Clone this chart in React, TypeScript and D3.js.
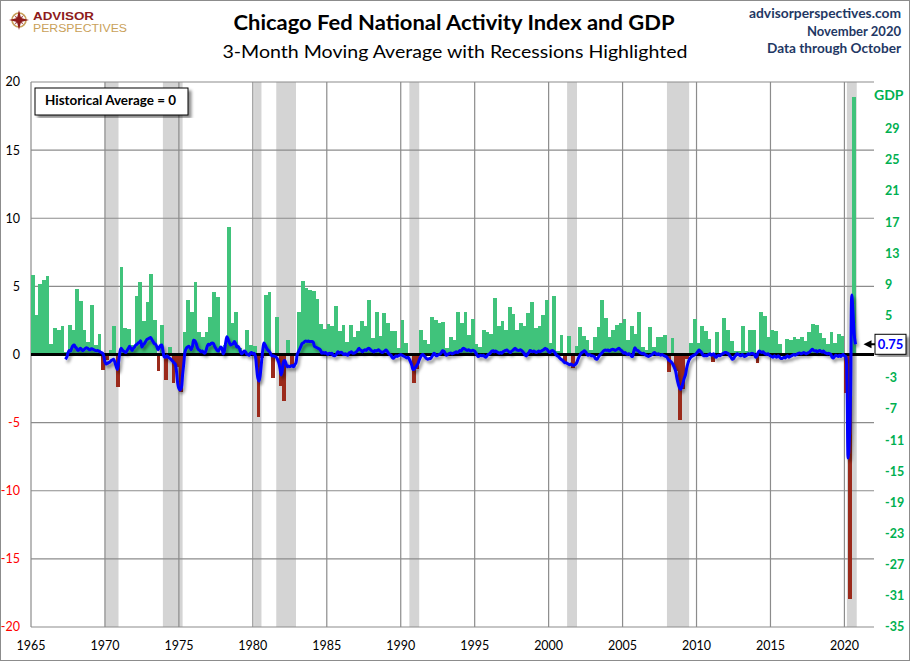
import * as d3 from "d3";

// quarterly real GDP growth (annualized %), first bar = 1965 Q1
const gdpStartYear = 1965;
const gdpGrowth = [
  10.2, 5.1, 9.1, 9.6, 10.1, 1.4, 3.4, 3.2, 3.6, 0.3, 3.8, 3.1,
  8.4, 6.9, 3.1, 1.6, 6.3, 1.2, 2.6, -2.0, -0.7, 0.6, 3.7, -4.2,
  11.3, 3.4, 3.3, 1.2, 7.5, 9.3, 4.3, 6.8, 10.3, 4.4, -2.1, 3.8,
  -3.3, 0.9, -3.7, -1.6, -4.8, 2.9, 7.0, 5.5, 9.3, 2.9, 2.3, 2.85,
  4.85, 8.05, 7.4, 0.15, 1.2, 16.4, 4.1, 5.5, 0.8, 0.3, 3.1, 1.2,
  1.1, -8.0, -0.5, 7.6, 8.05, -3.0, 4.85, -4.1, -6.0, 1.8, -1.6, 0.2,
  5.4, 9.4, 8.5, 8.3, 8.1, 7.1, 3.9, 3.3, 3.9, 3.6, 6.2, 3.0,
  3.8, 1.6, 3.8, 2.3, 3.0, 4.3, 3.6, 7.0, 2.1, 5.4, 2.4, 5.3,
  4.1, 3.0, 3.0, 0.8, 4.4, 1.5, 0.2, -3.6, -1.9, 3.1, 1.9, 1.4,
  4.85, 4.4, 4.1, 4.2, 0.8, 2.2, 1.9, 5.4, 4.0, 5.4, 2.5, 4.6,
  1.4, 0.9, 3.2, 2.9, 2.6, 7.2, 3.6, 4.3, 3.1, 6.1, 5.2, 3.1,
  4.0, 3.7, 5.3, 6.7, 3.4, 3.6, 5.1, 7.0, 1.5, 7.5, 0.5, 2.5,
  -1.1, 2.4, -1.7, 1.1, 3.5, 2.4, 1.8, 0.6, 2.2, 3.5, 7.0, 4.7,
  2.2, 3.1, 3.8, 4.1, 4.5, 1.9, 3.6, 2.6, 5.5, 0.9, 0.6, 3.5,
  0.9, 2.3, 2.2, 2.5, -2.3, 2.1, -2.1, -8.4, -4.4, -0.6, 1.5, 4.5,
  1.5, 3.7, 3.0, 2.0, -1.0, 2.9, -0.1, 4.7, 3.2, 1.7, 0.5, 0.5,
  3.6, 0.5, 3.2, 3.2, -1.1, 5.5, 5.0, 2.3, 3.2, 3.0, 1.3, 0.1,
  2.0, 1.9, 2.2, 2.0, 2.3, 1.7, 2.9, 3.9, 3.8, 2.7, 2.1, 1.3,
  2.9, 1.5, 2.6, 2.4, -5.0, -31.4, 33.1,
];

// CFNAI 3-month moving average, monthly, first point = May 1967
const cfnaiStart = { year: 1967, month: 5 };
const cfnaiMA3 = [
  -0.35, -0.2, 0.1, 0.3, 0.25, 0.45, 0.65, 0.7,
  0.55, 0.45, 0.3, 0.35, 0.45, 0.38, 0.28, 0.35, 0.45, 0.5, 0.45, 0.38,
  0.35, 0.42, 0.4, 0.35, 0.3, 0.28, 0.3, 0.25, 0.2, 0.15, 0.1, -0.1,
  -0.55, -0.7, -0.65, -0.6, -0.55, -0.45, -0.4, -0.35, -0.55, -0.85, -1.1, -0.6,
  0.1, 0.45, 0.35, 0.25, 0.2, 0.15, 0.3, 0.45, 0.6, 0.45, 0.3, 0.45,
  0.55, 0.7, 0.75, 0.85, 0.9, 1.0, 0.55, 0.7, 0.8, 0.95, 1.1, 1.15,
  1.2, 1.25, 1.1, 0.95, 0.8, 0.75, 0.6, 0.35, 0.5, 0.65, 0.7, 0.3,
  -0.15, -0.2, -0.1, -0.15, -0.25, -0.3, -0.4, -0.5, -0.6, -0.7, -1.2, -2.1,
  -2.5, -2.6, -2.45, -1.5, -0.65, 0.2, 0.45, 0.55, 0.6, 0.5, 0.35, 0.6,
  1.05, 1.0, 0.8, 0.5, 0.35, 0.3, 0.2, 0.25, 0.15, 0.1, 0.3, 0.6,
  0.75, 0.7, 0.8, 0.85, 0.8, 0.6, 0.45, 0.3, 0.26, 0.4, 0.55, 0.45,
  0.05, 0.3, 0.9, 1.3, 1.1, 0.85, 0.7, 0.75, 0.8, 0.95, 0.8, 0.55,
  0.6, 0.45, 0.2, 0.05, 0.15, 0.25, 0.2, 0.05, 0.0, -0.05, 0.1, 0.15,
  0.05, 0.1, -0.1, -0.9, -1.7, -1.95, -1.5, -0.6, 0.3, 0.85, 0.7, 0.5,
  0.35, 0.25, 0.15, -0.05, -0.1, -0.1, -0.15, -0.2, -0.35, -0.6, -1.0, -1.5,
  -1.1, -0.5, -0.45, -0.7, -0.9, -0.85, -0.9, -0.85, -0.8, -0.9, -0.75, -0.6,
  0.0, 0.2, 0.4, 0.6, 0.8, 0.85, 0.95, 1.0, 0.95, 1.0, 0.95, 0.95,
  0.95, 0.9, 0.6, 0.55, 0.5, 0.45, 0.4, 0.3, 0.1, 0.15, 0.1, 0.15,
  0.05, 0.0, 0.1, 0.05, 0.1, -0.05, -0.1, -0.05, 0.05, 0.2, 0.1, 0.15,
  0.15, 0.05, 0.0, 0.05, 0.0, -0.05, 0.1, 0.15, 0.2, 0.1, 0.1, 0.15,
  0.2, 0.3, 0.45, 0.35, 0.3, 0.2, 0.3, 0.35, 0.3, 0.4, 0.45, 0.4,
  0.3, 0.25, 0.2, 0.3, 0.25, 0.3, 0.35, 0.25, 0.2, 0.15, 0.2, 0.25,
  0.33, 0.25, 0.1, 0.0, -0.05, -0.2, -0.28, -0.2, -0.1, -0.15, -0.1, -0.05,
  0.0, -0.05, -0.1, -0.15, -0.2, -0.25, -0.2, -0.35, -0.55, -0.8, -1.1, -1.05,
  -0.95, -0.8, -0.65, -0.4, -0.2, -0.05, 0.0, -0.1, -0.2, -0.3, -0.35, -0.3,
  -0.3, -0.2, -0.05, 0.1, 0.0, -0.1, -0.05, 0.0, 0.05, 0.15, 0.28, 0.25,
  0.1, -0.05, 0.0, 0.05, 0.1, 0.1, 0.05, 0.1, 0.15, 0.2, 0.15, 0.2,
  0.3, 0.25, 0.4, 0.45, 0.4, 0.35, 0.3, 0.35, 0.3, 0.25, 0.3, 0.3,
  0.25, 0.1, -0.05, -0.15, -0.1, -0.05, -0.1, -0.05, -0.15, -0.2, -0.1, 0.0,
  0.05, 0.15, 0.25, 0.28, 0.2, 0.25, 0.2, 0.15, 0.1, 0.15, 0.1, 0.2,
  0.25, 0.3, 0.33, 0.25, 0.2, 0.15, 0.25, 0.3, 0.4, 0.45, 0.35, 0.3,
  0.3, 0.35, 0.3, 0.2, 0.1, -0.05, -0.1, 0.05, 0.15, 0.3, 0.25, 0.2,
  0.25, 0.2, 0.15, 0.2, 0.25, 0.2, 0.25, 0.3, 0.35, 0.45, 0.4, 0.35,
  0.2, 0.15, 0.25, 0.3, 0.25, 0.15, 0.0, -0.1, -0.15, -0.25, -0.35, -0.4,
  -0.5, -0.6, -0.6, -0.65, -0.7, -0.75, -0.7, -0.75, -0.8, -0.77, -0.7, -0.55,
  -0.3, -0.1, 0.05, 0.15, 0.2, 0.28, 0.2, 0.05, -0.05, 0.0, -0.05, -0.1,
  -0.1, -0.15, -0.3, -0.35, -0.25, -0.1, 0.0, 0.1, 0.2, 0.3, 0.33, 0.3,
  0.33, 0.25, 0.3, 0.35, 0.38, 0.35, 0.3, 0.35, 0.4, 0.45, 0.38, 0.3,
  0.2, 0.1, 0.15, 0.05, 0.0, 0.05, 0.0, -0.1, -0.15, 0.2, 0.5, 0.35,
  0.3, 0.25, 0.15, 0.1, 0.05, 0.1, 0.0, -0.05, -0.1, -0.15, -0.1, -0.05,
  0.0, 0.1, 0.15, 0.05, 0.0, 0.05, 0.0, -0.05, 0.0, -0.05, -0.1, -0.15,
  -0.2, -0.35, -0.45, -0.5, -0.6, -0.75, -0.95, -1.2, -1.7, -2.1, -2.4, -2.55,
  -2.4, -2.1, -1.75, -1.5, -1.0, -0.65, -0.4, -0.25, -0.15, -0.1, -0.05, 0.0,
  0.1, 0.2, 0.33, 0.25, 0.15, 0.0, -0.1, -0.05, -0.1, -0.05, 0.0, 0.05,
  -0.05, 0.0, 0.05, -0.15, -0.2, -0.1, -0.05, -0.1, 0.0, 0.05, 0.1, 0.15,
  0.15, 0.1, 0.05, -0.1, -0.2, -0.35, -0.3, -0.15, -0.05, 0.05, 0.0, -0.05,
  -0.1, 0.0, -0.05, -0.15, -0.1, -0.05, 0.05, 0.0, 0.05, 0.1, 0.05, 0.0,
  -0.2, -0.1, 0.15, 0.25, 0.2, 0.15, 0.2, 0.1, 0.05, 0.0, 0.05, -0.05,
  -0.1, -0.15, -0.2, -0.1, -0.15, -0.2, -0.1, -0.15, -0.25, -0.3, -0.25, -0.2,
  -0.25, -0.15, -0.1, -0.2, -0.15, -0.1, -0.05, 0.0, -0.05, 0.0, 0.05, 0.1,
  0.1, 0.05, 0.1, 0.15, 0.1, 0.05, 0.1, 0.15, 0.2, 0.3, 0.38, 0.3,
  0.25, 0.28, 0.2, 0.25, 0.3, 0.22, 0.18, 0.25, 0.15, 0.1, 0.05, 0.1,
  0.05, 0.0, -0.2, -0.25, -0.15, -0.05, -0.1, -0.15, -0.05, -0.15, -0.05, 0.0,
  -0.1, -0.15, -1.8, -7.6, -6.2, -2.8, 4.36, 3.0, 1.4, 0.75,
];

// NBER recessions, first and last shaded month
const recessionStarts = ["1970-01", "1973-12", "1980-02", "1981-08", "1990-08", "2001-04", "2008-01", "2020-03"];
const recessionEnds = ["1970-11", "1975-03", "1980-07", "1982-11", "1991-03", "2001-11", "2009-06", "2020-10"];

const yearTicks = [1965, 1970, 1975, 1980, 1985, 1990, 1995, 2000, 2005, 2010, 2015, 2020];
const leftTicks = [20, 15, 10, 5, 0, -5, -10, -15, -20];
// the "1" label sits behind the last-value callout in the original
const rightTicks = [29, 25, 21, 17, 13, 9, 5, -3, -7, -11, -15, -19, -23, -27, -31, -35];
const lastValueLabel = "0.75";

const width = 910;
const height = 661;
const font = "Lato, 'Open Sans', sans-serif";
const logoFont = "'Liberation Sans', Arial, sans-serif";

const x = d3.scaleLinear().domain([1965, 2022]).range([31, 874]);
const yLeft = d3.scaleLinear().domain([-20, 20]).range([627, 82]);
const yRight = d3.scaleLinear().domain([-35, 35]).range([627, 82]);

const monthToYear = (s: string, endOfMonth = false) => {
  const [yy, mm] = s.split("-").map(Number);
  return yy + (mm - 1 + (endOfMonth ? 1 : 0)) / 12;
};

const App = () => {
  const points = cfnaiMA3.map((v, i) => ({
    t: cfnaiStart.year + (cfnaiStart.month - 1 + i) / 12,
    v,
  }));
  const line = d3
    .line<{ t: number; v: number }>()
    .x((d) => x(d.t))
    .y((d) => yLeft(d.v))
    .curve(d3.curveCatmullRom.alpha(0.5));

  const lastPt = points[points.length - 1];
  const x0 = x.range()[0];
  const x1 = x.range()[1];

  return (
    <svg
      width={width}
      height={height}
      style={{ position: "absolute", left: 0, top: 0, background: "#fff" }}
      fontFamily={font}
    >
      <defs>
        <filter id="lineShadow" x="-5%" y="-5%" width="110%" height="120%">
          <feDropShadow dx="2" dy="3" stdDeviation="1.4" floodColor="#000" floodOpacity="0.4" />
        </filter>
        <filter id="boxShadow">
          <feDropShadow dx="3" dy="3" stdDeviation="1.5" floodColor="#000" floodOpacity="0.45" />
        </filter>
      </defs>
      <rect x={0.5} y={0.5} width={width - 1} height={height - 1} fill="#fff" stroke="#8c8c8c" />

      {/* logo */}
      <g fontFamily={logoFont}>
        <circle cx={19} cy={20} r={7} fill="none" stroke="#c9a15a" strokeWidth={1.6} />
        <path d="M19,10 L21,18 L29,20 L21,22 L19,30 L17,22 L9,20 L17,18 Z" fill="#8e1b1b" />
        <path d="M14,15 L20,19 L24,25 L18,21 Z M24,15 L20,21 L14,25 L18,19 Z" fill="#8e1b1b" opacity={0.8} />
        <text x={33} y={20} fontSize={11} fontWeight="bold" fill="#8e1b1b" textLength={61} lengthAdjust="spacingAndGlyphs">
          ADVISOR
        </text>
        <text x={33} y={31.5} fontSize={10} fill="#c9a15a" textLength={94} lengthAdjust="spacingAndGlyphs">
          PERSPECTIVES
        </text>
      </g>

      {/* titles */}
      <text x={454} y={30} textAnchor="middle" fontSize={20} fontWeight="bold" fill="#000" textLength={441} lengthAdjust="spacingAndGlyphs">
        Chicago Fed National Activity Index and GDP
      </text>
      <text x={455} y={57.5} textAnchor="middle" fontSize={18} fill="#000" textLength={465} lengthAdjust="spacingAndGlyphs">
        3-Month Moving Average with Recessions Highlighted
      </text>
      <g fill="#1f3864" fontWeight="bold" fontSize={13.5} textAnchor="end">
        <text x={901} y={18} textLength={152} lengthAdjust="spacingAndGlyphs">advisorperspectives.com</text>
        <text x={901} y={36} textLength={94} lengthAdjust="spacingAndGlyphs">November 2020</text>
        <text x={901} y={53} textLength={134} lengthAdjust="spacingAndGlyphs">Data through October</text>
      </g>

      {/* recession shading */}
      {recessionStarts.map((s, i) => {
        const a = x(monthToYear(s));
        const b = x(monthToYear(recessionEnds[i], true));
        return <rect key={s} x={a} y={yLeft(20)} width={b - a} height={yLeft(-20) - yLeft(20)} fill="#d4d4d4" />;
      })}

      {/* gridlines */}
      {leftTicks.map((t) => (
        <line key={"h" + t} x1={x0} x2={x1} y1={yLeft(t)} y2={yLeft(t)} stroke="#8c8c8c" strokeWidth={1.2} />
      ))}
      {yearTicks.map((t) => (
        <line key={"v" + t} x1={x(t)} x2={x(t)} y1={yLeft(20)} y2={yLeft(-20)} stroke="#8c8c8c" strokeWidth={1.2} />
      ))}

      {/* GDP bars */}
      {gdpGrowth.map((v, i) => {
        const t = gdpStartYear + i / 4;
        const a = x(t);
        const b = x(t + 0.25);
        const y0 = yRight(0);
        const y1 = yRight(v);
        return (
          <rect
            key={"g" + i}
            x={a}
            width={b - a}
            y={Math.min(y0, y1)}
            height={Math.abs(y1 - y0)}
            fill={v >= 0 ? "#40c37b" : "#9b2a1b"}
            shapeRendering="crispEdges"
          />
        );
      })}

      {/* zero line */}
      <line x1={x0} x2={x1} y1={yLeft(0)} y2={yLeft(0)} stroke="#000" strokeWidth={3} />

      {/* CFNAI-MA3 */}
      <path d={line(points) ?? ""} fill="none" stroke="#0000ff" strokeWidth={3} strokeLinejoin="round" filter="url(#lineShadow)" />

      {/* left axis */}
      {leftTicks.map((t) => (
        <text key={"l" + t} x={20} y={yLeft(t)} dy="0.35em" textAnchor="end" fontSize={12.5} fill={t < 0 ? "#ff0000" : "#000"}>
          {t}
        </text>
      ))}
      {/* bottom axis */}
      {yearTicks.map((t) => (
        <text key={"x" + t} x={x(t)} y={650} textAnchor="middle" fontSize={12.5} fill="#000">
          {t}
        </text>
      ))}
      {/* right axis */}
      {rightTicks.map((t) => (
        <text key={"r" + t} x={885} y={yRight(t)} dy="0.35em" fontSize={12.5} fontWeight="bold" fill="#00b050">
          {t}
        </text>
      ))}
      <text x={874} y={99.5} fontSize={14} fontWeight="bold" fill="#00b050">
        GDP
      </text>

      {/* legend box */}
      <rect x={35} y={88} width={153} height={27} fill="#fff" stroke="#000" strokeWidth={1} filter="url(#boxShadow)" />
      <text x={45} y={105} fontSize={13} fontWeight="bold" fill="#000" textLength={131} lengthAdjust="spacingAndGlyphs">
        Historical Average = 0
      </text>

      {/* last value callout */}
      <path
        d={`M${x(lastPt.t) + 8},${yLeft(lastPt.v)} l8,-4 l0,3 l6,0 l0,2 l-6,0 l0,3 Z`}
        fill="#000"
      />
      <rect x={875} y={yLeft(lastPt.v) - 10} width={31} height={20} fill="#fff" stroke="#000" strokeWidth={1} filter="url(#boxShadow)" />
      <text x={890.5} y={yLeft(lastPt.v) + 4.5} textAnchor="middle" fontSize={13} fontWeight="bold" fill="#0000ff">
        {lastValueLabel}
      </text>
    </svg>
  );
};

export default App;
